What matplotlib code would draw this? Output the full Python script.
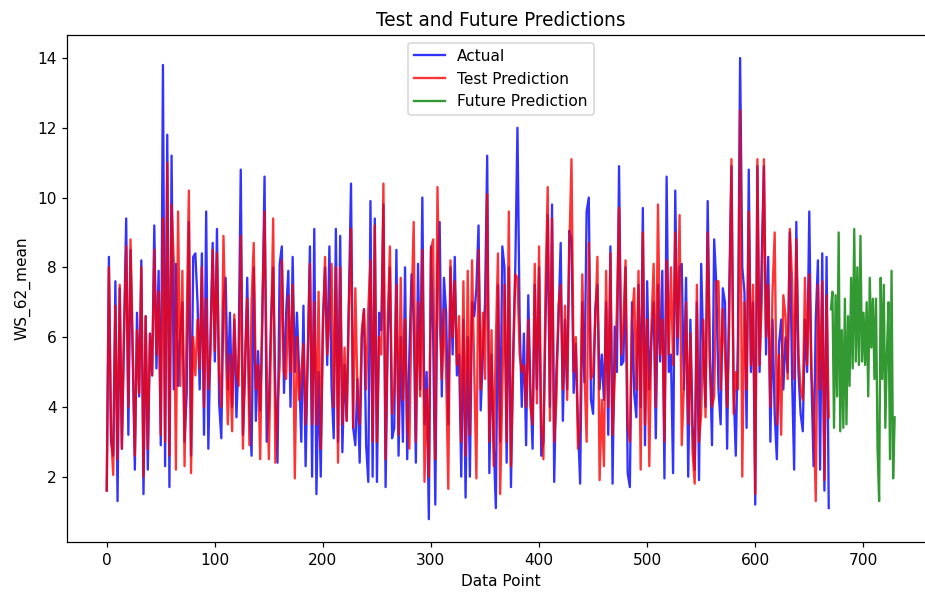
import matplotlib
matplotlib.use("Agg")
import matplotlib.pyplot as plt
import numpy as np

# values, one every 2 data points (0 .. 668)
actual = [
    1.6, 8.3, 3.0, 2.6, 7.6, 1.3, 7.4, 2.8, 6.1, 9.4,
    3.2, 8.5, 5.5, 2.2, 6.7, 4.3, 8.2, 1.5, 6.6, 2.2,
    6.1, 4.9, 9.2, 5.1, 7.9, 2.9, 13.8, 2.3, 11.8, 1.7,
    11.2, 4.5, 8.1, 4.6, 6.1, 7.0, 3.0, 4.4, 9.3, 2.6,
    8.3, 8.4, 7.0, 4.5, 8.4, 3.2, 9.6, 2.8, 6.0, 8.7,
    5.3, 9.1, 4.1, 3.1, 7.0, 7.7, 4.5, 6.7, 4.0, 6.5,
    3.7, 5.5, 10.8, 3.2, 5.0, 7.7, 4.0, 2.6, 8.0, 3.6,
    5.6, 3.9, 6.5, 10.6, 3.0, 4.0, 6.5, 8.0, 4.5, 2.4,
    8.1, 8.6, 4.4, 6.7, 7.9, 4.0, 8.3, 5.0, 6.7, 5.0,
    3.0, 6.9, 2.3, 5.5, 8.6, 2.0, 9.1, 1.5, 5.0, 2.0,
    6.5, 8.0, 5.2, 8.6, 4.6, 3.1, 9.1, 3.0, 8.9, 2.7,
    5.2, 3.6, 7.0, 10.4, 3.4, 2.9, 4.8, 2.4, 6.0, 6.8,
    2.9, 1.85, 9.9, 2.0, 9.4, 1.85, 6.7, 6.2, 9.8, 1.7,
    6.0, 8.0, 3.1, 3.4, 8.5, 2.6, 6.0, 3.0, 8.0, 2.5,
    5.5, 7.8, 6.5, 2.4, 8.1, 4.5, 10.0, 3.5, 5.0, 0.78,
    8.6, 6.0, 1.2, 8.0, 9.3, 4.3, 7.7, 6.7, 3.5, 8.0,
    5.5, 8.3, 4.9, 5.5, 2.0, 6.5, 1.4, 6.0, 2.0, 7.0,
    6.6, 7.4, 9.2, 3.9, 5.5, 7.0, 11.2, 2.1, 5.5, 3.0,
    1.1, 7.5, 3.0, 8.6, 8.0, 2.4, 8.0, 1.7, 5.5, 8.0,
    12.0, 6.5, 4.0, 6.1, 2.9, 7.2, 4.5, 2.8, 7.5, 4.5,
    8.0, 2.6, 3.0, 6.5, 9.5, 4.0, 9.8, 1.85, 5.0, 6.5,
    8.7, 3.6, 6.5, 4.5, 9.05, 8.8, 4.4, 5.8, 3.5, 1.8,
    7.0, 4.7, 9.6, 10.0, 4.2, 3.8, 6.8, 7.5, 4.5, 5.5,
    4.2, 7.0, 3.2, 8.6, 1.8, 6.3, 5.0, 10.9, 5.2, 5.3,
    8.0, 2.1, 1.7, 7.0, 4.4, 3.7, 7.5, 4.0, 9.7, 2.9,
    7.6, 4.5, 6.0, 7.0, 3.1, 7.5, 5.3, 7.9, 1.95, 10.6,
    5.0, 5.5, 2.1, 10.2, 5.5, 8.0, 8.1, 4.5, 7.7, 2.0,
    6.5, 3.5, 2.2, 7.0, 1.9, 8.1, 5.5, 4.0, 9.9, 5.5,
    2.9, 8.8, 7.5, 4.5, 3.5, 7.4, 7.0, 2.8, 7.5, 10.9,
    4.5, 2.6, 6.0, 14.0, 8.0, 7.3, 3.4, 10.8, 5.0, 7.0,
    1.2, 10.9, 5.0, 8.3, 10.9, 5.5, 8.3, 3.0, 6.5, 3.8,
    2.5, 5.8, 6.5, 4.5, 6.0, 5.0, 9.0, 5.0, 2.2, 9.3,
    5.0, 3.8, 3.3, 6.5, 5.0, 9.6, 4.8, 2.3, 6.5, 8.2,
    2.2, 8.4, 1.6, 8.3, 1.1,
]

test_pred = [
    1.6, 8.0, 3.2, 2.05, 6.9, 2.5, 7.5, 2.8, 6.1, 8.6,
    4.0, 8.8, 5.8, 2.6, 6.2, 4.4, 8.0, 2.0, 6.6, 2.8,
    6.1, 4.9, 8.5, 5.5, 7.3, 3.2, 9.4, 3.0, 11.0, 2.6,
    9.8, 8.2, 2.2, 9.6, 4.6, 7.9, 2.3, 6.5, 10.2, 2.1,
    6.0, 4.9, 6.5, 5.1, 8.0, 4.0, 7.1, 4.5, 5.6, 8.5,
    5.6, 8.4, 5.0, 4.0, 8.9, 6.0, 3.5, 5.5, 3.3, 6.65,
    5.0, 4.6, 8.9, 2.8, 5.5, 7.1, 2.9, 7.0, 8.7, 4.5,
    5.2, 2.5, 7.0, 9.6, 5.2, 2.5, 6.0, 9.4, 2.4, 4.0,
    5.2, 8.2, 5.0, 4.8, 7.2, 5.0, 7.5, 1.95, 6.0, 4.2,
    5.0, 5.8, 3.5, 5.5, 8.1, 3.5, 7.0, 3.5, 7.3, 2.8,
    6.1, 8.3, 5.5, 6.5, 8.1, 4.0, 8.0, 2.4, 8.0, 3.5,
    5.7, 3.6, 6.8, 9.1, 3.4, 7.4, 4.4, 3.5, 6.2, 6.8,
    4.5, 6.8, 8.2, 3.0, 9.2, 3.0, 6.0, 5.5, 10.4, 2.5,
    6.5, 8.6, 3.8, 4.5, 7.5, 3.2, 7.7, 4.2, 6.5, 3.5,
    2.8, 6.8, 9.3, 3.0, 7.0, 4.3, 8.5, 1.85, 4.5, 2.0,
    8.5, 8.8, 2.5, 10.3, 6.5, 4.8, 6.8, 5.0, 1.65, 8.2,
    6.0, 7.6, 5.2, 6.6, 3.0, 7.6, 2.6, 7.9, 3.2, 8.2,
    5.0, 1.95, 8.5, 4.5, 6.7, 4.8, 10.1, 3.0, 6.2, 2.3,
    5.9, 8.4, 1.5, 4.5, 7.5, 3.0, 9.6, 2.3, 5.0, 7.8,
    7.7, 5.5, 5.0, 5.2, 4.0, 6.5, 4.0, 3.5, 8.1, 4.1,
    8.6, 3.5, 2.5, 7.5, 10.3, 3.6, 9.4, 3.0, 4.2, 6.9,
    7.5, 4.5, 6.9, 4.2, 8.5, 11.1, 5.0, 6.0, 2.8, 3.5,
    7.8, 5.0, 3.0, 8.7, 4.8, 5.0, 6.5, 8.3, 1.9, 4.2,
    2.3, 7.9, 4.0, 8.4, 3.2, 4.8, 6.8, 9.7, 5.5, 6.4,
    8.2, 3.5, 3.0, 6.5, 7.4, 4.5, 7.9, 2.2, 9.0, 3.5,
    6.5, 2.3, 6.4, 8.1, 4.0, 9.8, 5.5, 6.5, 3.0, 8.2,
    5.5, 8.0, 5.2, 9.0, 6.0, 9.5, 2.9, 4.6, 7.0, 3.5,
    6.1, 2.7, 1.8, 7.5, 3.0, 3.8, 6.5, 3.7, 9.0, 5.2,
    4.0, 4.3, 7.6, 7.6, 4.5, 6.8, 5.5, 4.0, 6.6, 11.1,
    3.8, 5.0, 4.5, 12.5, 2.0, 7.0, 4.5, 9.6, 5.2, 7.5,
    1.5, 11.1, 5.2, 7.0, 11.1, 6.0, 7.5, 4.0, 7.3, 9.0,
    3.5, 5.5, 3.2, 7.2, 6.6, 4.8, 9.1, 7.7, 4.8, 8.8,
    5.5, 4.5, 4.2, 7.7, 5.2, 7.8, 5.0, 4.0, 1.3, 7.5,
    4.5, 7.6, 1.9, 7.2, 3.7,
]

future_pred = [
    6.8, 7.3, 3.4, 7.2, 4.3, 9.0, 3.3, 6.2, 3.4, 7.1,
    3.5, 6.6, 4.6, 7.7, 5.1, 9.1, 5.3, 8.0, 5.2, 8.9,
    5.3, 6.7, 5.2, 7.0, 4.3, 7.7, 5.7, 7.1, 4.8, 7.1,
    2.8, 1.3, 7.7, 4.8, 7.5, 3.4, 5.5, 7.0, 2.5, 7.9,
    1.95, 3.7,
]

x_actual = np.arange(len(actual)) * 2
x_test = np.arange(len(test_pred)) * 2
x_future = np.linspace(670, 729, len(future_pred))

DPI = 111
fig = plt.figure(figsize=(925 / DPI, 592 / DPI), dpi=DPI)
# the original screenshot cuts the right edge of the axes off
ax = fig.add_axes([0.0728, 0.084, 0.937, 0.857])

ax.plot(x_actual, actual, color="blue", alpha=0.8, label="Actual")
ax.plot(x_test, test_pred, color="red", alpha=0.8, label="Test Prediction")
ax.plot(x_future, future_pred, color="green", alpha=0.8, label="Future Prediction")

ax.set_title("Test and Future Predictions")
ax.set_xlabel("Data Point")
ax.set_ylabel("WS_62_mean")
ax.legend(loc="upper center")

fig.savefig("out.png", dpi=DPI)
